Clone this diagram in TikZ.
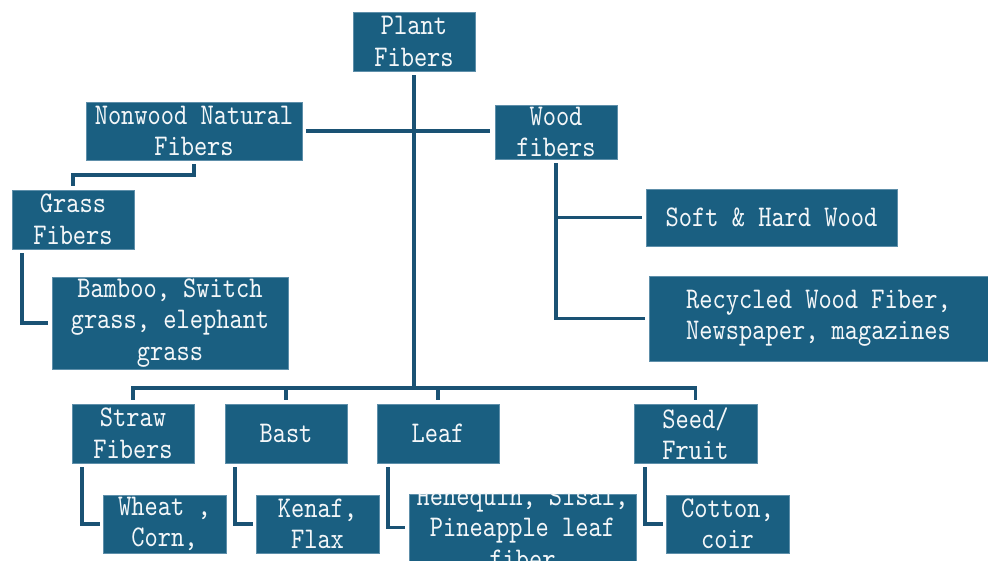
\documentclass[tikz,border=0pt]{standalone}
\usepackage{fontspec}
\newfontfamily\boxfont{lmmono10-regular.otf}[FakeStretch=0.84]
\definecolor{boxfill}{HTML}{1A5F81}
\definecolor{linecol}{HTML}{1A5274}
\definecolor{boxedge}{HTML}{5E8FAA}
\tikzset{
  box/.style={rectangle, fill=boxfill, draw=boxedge, line width=0.5pt, inner sep=0pt},
  lbl/.style={text=white!95!boxfill, align=center, inner sep=0pt,
    font=\boxfont\fontsize{30}{31.5}\selectfont},
  conn/.style={draw=linecol, line width=3.6pt, line join=miter}
}
\newcommand\mybox[6]{%
  \node[box, minimum width=#4pt, minimum height=#5pt] (#1) at (#2,#3) {};
  \begin{scope}
    \clip (#1.south west) rectangle (#1.north east);
    \node[lbl] (#1-t) at (#1.center) {#6};
  \end{scope}}
\begin{document}
\begin{tikzpicture}[x=1pt,y=-1pt]
\useasboundingbox (0,0) rectangle (988,561);
\mybox{plant}{414}{41.5}{122}{59}{Plant\\Fibers}
\mybox{nonwood}{194}{131}{216}{58}{Nonwood Natural\\Fibers}
\mybox{grass}{73}{219.5}{122}{59}{Grass\\Fibers}
\mybox{wood}{556}{132}{122}{54}{Wood\\fibers}
\mybox{soft}{771.5}{217.5}{251}{57}{Soft \& Hard Wood}
\mybox{recyc}{818.5}{318.5}{339}{85}{Recycled Wood Fiber,\\Newspaper, magazines}
\mybox{bamboo}{170}{323}{236}{92}{Bamboo, Switch\\grass, elephant\\grass}
\mybox{straw}{133}{433.5}{122}{59}{Straw\\Fibers}
\mybox{bast}{286}{433.5}{122}{59}{Bast}
\mybox{leaf}{438}{433.5}{122}{59}{Leaf}
\mybox{seed}{695.5}{433.5}{123}{59}{Seed/\\Fruit}
\mybox{wheat}{164.5}{524}{123}{58}{Wheat ,\\Corn,}
\mybox{kenaf}{317.5}{524}{123}{58}{Kenaf,\\Flax}
\mybox{leafsub}{522.5}{527.5}{227}{67}{Henequin, Sisal,\\Pineapple leaf\\fiber}
\mybox{cotton}{727.5}{524}{123}{58}{Cotton,\\coir}
\coordinate (bus) at (414,388);
% trunk and bottom bus
\draw[conn] ([yshift=-4pt]plant.south) -- (bus);
\draw[conn] ([yshift=4pt]straw.north) |- (bus);
\draw[conn] ([yshift=4pt]seed.north) |- (bus);
\draw[conn] ([yshift=4pt]bast.north) -- (bast.north |- bus);
\draw[conn] ([yshift=4pt]leaf.north) -- (leaf.north |- bus);
% cross bar
\draw[conn] ([xshift=4pt]nonwood.east) -- ([xshift=-5pt]nonwood.east -| wood.west);
% nonwood -> grass
\draw[conn] ([yshift=-4pt]nonwood.south) -- ++(0,11) -| ([yshift=4pt]grass.north);
% grass -> bamboo
\draw[conn] ([xshift=10pt,yshift=-4pt]grass.south west) |- ([xshift=-4pt]bamboo.west);
% wood -> soft, recycled
\draw[conn] ([yshift=-4pt]wood.south) |- ([xshift=-4pt]recyc.west);
\draw[conn] (wood.south |- soft.west) -- ([xshift=-4pt]soft.west);
% lower sub-branches
\draw[conn] ([xshift=10pt,yshift=-4pt]straw.south west) |- ([xshift=-3pt]wheat.west);
\draw[conn] ([xshift=10pt,yshift=-4pt]bast.south west) |- ([xshift=-3pt]kenaf.west);
\draw[conn] ([xshift=11pt,yshift=-4pt]leaf.south west) |- ([xshift=-4pt]leafsub.west);
\draw[conn] ([xshift=11pt,yshift=-4pt]seed.south west) |- ([xshift=-3pt]cotton.west);
\end{tikzpicture}
\end{document}
